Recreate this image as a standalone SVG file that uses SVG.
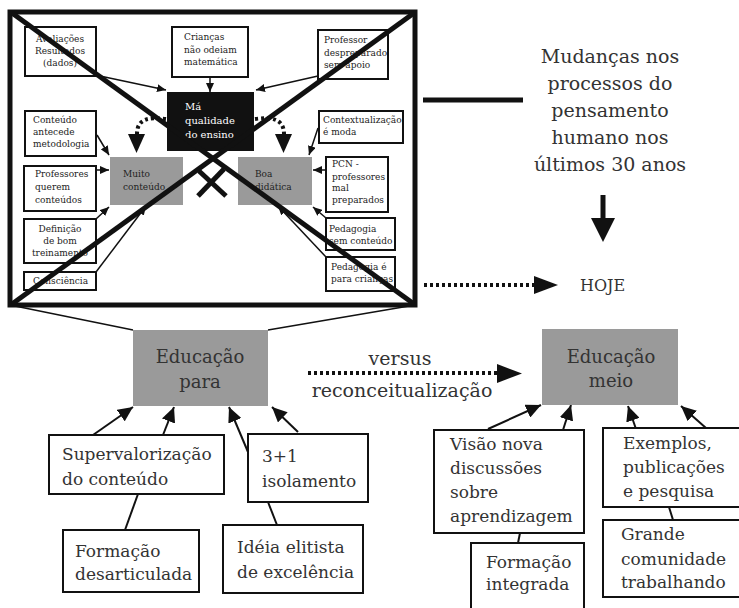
<svg xmlns="http://www.w3.org/2000/svg" width="739" height="608" viewBox="0 0 739 608">
<defs>
<marker id="as" markerUnits="userSpaceOnUse" markerWidth="10" markerHeight="8" refX="9" refY="4" orient="auto"><path d="M0,0 L9,4 L0,8 z" fill="#111"/></marker>
<marker id="am" markerUnits="userSpaceOnUse" markerWidth="16" markerHeight="14" refX="15" refY="7" orient="auto"><path d="M0,0 L15,7 L0,14 z" fill="#111"/></marker>
</defs>
<style>
text{font-family:"DejaVu Serif","Liberation Serif",serif;fill:#222}
.s{font-size:9px}
.w{fill:#fff;font-size:10px}
.b{font-size:17px;fill:#333}
.e{font-size:18px;fill:#333}
.v{font-size:19px;fill:#333}
.m{font-size:19px;fill:#333}
.box{fill:#fff;stroke:#111;stroke-width:2}
.g{fill:#9a9a9a}
.ln{stroke:#111;stroke-width:1.5;fill:none}
.lb{stroke:#111;stroke-width:2;fill:none}
.dot{stroke:#111;stroke-width:4;stroke-dasharray:3 3;fill:none}
.thick{stroke:#111;stroke-width:5;fill:none}
</style>
<rect width="739" height="608" fill="#fff"/>

<g id="connectors">
<line class="ln" x1="100" y1="76" x2="166" y2="90" marker-end="url(#as)"/>
<line class="ln" x1="210" y1="77" x2="210" y2="92" marker-end="url(#as)"/>
<line class="ln" x1="318" y1="76" x2="256" y2="90" marker-end="url(#as)"/>
<line class="ln" x1="97" y1="135" x2="109" y2="155" marker-end="url(#as)"/>
<line class="ln" x1="96" y1="170" x2="109" y2="170" marker-end="url(#as)"/>
<line class="ln" x1="96" y1="219" x2="109" y2="207" marker-end="url(#as)"/>
<line class="ln" x1="96" y1="272" x2="146" y2="206" marker-end="url(#as)"/>
<line class="ln" x1="318" y1="128" x2="309" y2="155" marker-end="url(#as)"/>
<line class="ln" x1="326" y1="170" x2="313" y2="170" marker-end="url(#as)"/>
<line class="ln" x1="326" y1="218" x2="313" y2="207" marker-end="url(#as)"/>
<line class="ln" x1="326" y1="257" x2="278" y2="206" marker-end="url(#as)"/>
<path class="dot" d="M166,119 C150,117 137,118 137,134"/>
<polygon points="128,134 145,134 136.5,153" fill="#111"/>
<path class="dot" d="M255,119 C270,117 284,118 284,134"/>
<polygon points="275,134 292,134 283.5,153" fill="#111"/>
<line class="thick" x1="198" y1="196" x2="224" y2="169"/>
<line class="thick" x1="199" y1="171" x2="226" y2="196"/>
<line class="ln" x1="10" y1="305" x2="133" y2="330"/>
<line class="ln" x1="415" y1="305" x2="268" y2="330"/>
<line class="thick" x1="423" y1="100" x2="523" y2="100"/>
<line class="thick" x1="603" y1="195" x2="603" y2="220"/>
<polygon points="591,218 615,218 603,242" fill="#111"/>
<line class="dot" x1="424" y1="285" x2="536" y2="285"/>
<polygon points="534,276 534,294 558,285" fill="#111"/>
<line class="dot" x1="308" y1="373" x2="499" y2="373"/>
<polygon points="497,364 497,383 522,373.5" fill="#111"/>
<line class="lb" x1="93" y1="435" x2="133" y2="407" marker-end="url(#am)"/>
<line class="lb" x1="163" y1="435" x2="174" y2="407" marker-end="url(#am)"/>
<line class="lb" x1="248" y1="452" x2="229" y2="407" marker-end="url(#am)"/>
<line class="lb" x1="298" y1="432" x2="272" y2="407" marker-end="url(#am)"/>
<line class="lb" x1="138" y1="494" x2="125" y2="530"/>
<line class="lb" x1="268" y1="502" x2="277" y2="525"/>
<line class="lb" x1="488" y1="429" x2="541" y2="405" marker-end="url(#am)"/>
<line class="lb" x1="563" y1="430" x2="571" y2="405" marker-end="url(#am)"/>
<line class="lb" x1="636" y1="429" x2="628" y2="406" marker-end="url(#am)"/>
<line class="lb" x1="706" y1="428" x2="681" y2="406" marker-end="url(#am)"/>
<line class="lb" x1="520" y1="533" x2="518" y2="543"/>
<line class="lb" x1="669" y1="507" x2="673" y2="520"/>
</g>

<g id="n-avaliacoes"><rect class="box" x="25" y="27" width="71" height="49"/>
<text class="s" x="60" text-anchor="middle"><tspan y="42">Avaliações</tspan><tspan x="60" y="54">Resultados</tspan><tspan x="60" y="66">(dados)</tspan></text></g>
<g id="n-criancas"><rect class="box" x="172" y="27" width="76" height="50"/>
<text class="s" x="184"><tspan y="40">Crianças</tspan><tspan x="184" y="53">não odeiam</tspan><tspan x="184" y="65">matemática</tspan></text></g>
<g id="n-professor"><rect class="box" x="318" y="30" width="70" height="49"/>
<text class="s" x="324"><tspan y="43">Professor</tspan><tspan x="324" y="56">despreparado</tspan><tspan x="324" y="68">sem apoio</tspan></text></g>
<g id="n-ma"><rect x="167" y="92" width="87" height="59" fill="#111"/>
<text class="w" x="185"><tspan y="110">Má</tspan><tspan x="185" y="124">qualidade</tspan><tspan x="185" y="138">do ensino</tspan></text></g>
<g id="n-conteudo"><rect class="box" x="25" y="111" width="71" height="45"/>
<text class="s" x="33"><tspan y="123">Conteúdo</tspan><tspan x="33" y="135">antecede</tspan><tspan x="33" y="147">metodologia</tspan></text></g>
<g id="n-contextualizacao"><rect class="box" x="319" y="111" width="84" height="32"/>
<text class="s" x="323"><tspan y="123">Contextualização</tspan><tspan x="323" y="135">é moda</tspan></text></g>
<g id="n-muito"><rect class="g" x="110" y="157" width="73" height="48"/>
<text class="s" x="123"><tspan y="177">Muito</tspan><tspan x="123" y="190">conteúdo</tspan></text></g>
<g id="n-boa"><rect class="g" x="238" y="157" width="74" height="48"/>
<text class="s" x="255"><tspan y="177">Boa</tspan><tspan x="255" y="190">didática</tspan></text></g>
<g id="n-professores"><rect class="box" x="24" y="166" width="72" height="45"/>
<text class="s" x="35"><tspan y="177">Professores</tspan><tspan x="35" y="190">querem</tspan><tspan x="35" y="203">conteúdos</tspan></text></g>
<g id="n-pcn"><rect class="box" x="326" y="157" width="62" height="55"/>
<text class="s" x="332"><tspan y="167">PCN -</tspan><tspan x="332" y="180">professores</tspan><tspan x="332" y="191">mal</tspan><tspan x="332" y="203">preparados</tspan></text></g>
<g id="n-definicao"><rect class="box" x="24" y="219" width="72" height="44"/>
<text class="s" x="60" text-anchor="middle"><tspan y="232">Definição</tspan><tspan x="60" y="244">de bom</tspan><tspan x="60" y="256">treinamento</tspan></text></g>
<g id="n-pedsem"><rect class="box" x="326" y="218" width="69" height="32"/>
<text class="s" x="329"><tspan y="232">Pedagogia</tspan><tspan x="329" y="244">sem conteúdo</tspan></text></g>
<g id="n-consciencia"><rect class="box" x="24" y="272" width="72" height="18"/>
<text class="s" x="33" y="284">Consciência</text></g>
<g id="n-pedpara"><rect class="box" x="326" y="257" width="69" height="34"/>
<text class="s" x="331"><tspan y="270">Pedagogia é</tspan><tspan x="331" y="282">para crianças</tspan></text></g>

<g id="frame">
<rect class="thick" x="10" y="12" width="405" height="293"/>
<line class="thick" x1="12" y1="13" x2="414" y2="304"/>
<line class="thick" x1="414" y1="13" x2="12" y2="304"/>
</g>

<g id="n-mudancas"><text class="m" x="610" text-anchor="middle"><tspan y="63">Mudanças nos</tspan><tspan x="610" y="90">processos do</tspan><tspan x="610" y="117">pensamento</tspan><tspan x="610" y="144">humano nos</tspan><tspan x="610" y="171">últimos 30 anos</tspan></text></g>
<g id="n-hoje"><text x="580" y="291" style="font-size:16px;fill:#333">HOJE</text></g>

<g id="n-edpara"><rect class="g" x="133" y="330" width="135" height="76"/>
<text class="e" x="200" text-anchor="middle"><tspan y="363">Educação</tspan><tspan x="200" y="388">para</tspan></text></g>
<g id="n-versus"><text class="v" x="400" y="365" text-anchor="middle">versus</text>
<text class="v" x="402" y="397" text-anchor="middle">reconceitualização</text></g>
<g id="n-edmeio"><rect class="g" x="542" y="329" width="136" height="76"/>
<text class="e" x="611" text-anchor="middle"><tspan y="363">Educação</tspan><tspan x="611" y="387">meio</tspan></text></g>
<g id="n-super"><rect class="box" x="49" y="435" width="175" height="59"/>
<text class="b" x="62"><tspan y="460">Supervalorização</tspan><tspan x="62" y="485">do conteúdo</tspan></text></g>
<g id="n-31"><rect class="box" x="248" y="434" width="120" height="68"/>
<text class="b" x="262"><tspan y="462">3+1</tspan><tspan x="262" y="487">isolamento</tspan></text></g>
<g id="n-formdes"><rect class="box" x="63" y="530" width="136" height="62"/>
<text class="b" x="75"><tspan y="557">Formação</tspan><tspan x="75" y="580">desarticulada</tspan></text></g>
<g id="n-ideia"><rect class="box" x="223" y="525" width="140" height="68"/>
<text class="b" x="237"><tspan y="553">Idéia elitista</tspan><tspan x="237" y="578">de excelência</tspan></text></g>
<g id="n-visao"><rect class="box" x="434" y="430" width="150" height="103"/>
<text class="b" x="450"><tspan y="450">Visão nova</tspan><tspan x="450" y="474">discussões</tspan><tspan x="450" y="498">sobre</tspan><tspan x="450" y="522">aprendizagem</tspan></text></g>
<g id="n-exemplos"><rect class="box" x="603" y="428" width="140" height="79"/>
<text class="b" x="623"><tspan y="449">Exemplos,</tspan><tspan x="623" y="473">publicações</tspan><tspan x="623" y="497">e pesquisa</tspan></text></g>
<g id="n-grande"><rect class="box" x="603" y="520" width="140" height="77"/>
<text class="b" x="621"><tspan y="540">Grande</tspan><tspan x="621" y="565">comunidade</tspan><tspan x="621" y="588">trabalhando</tspan></text></g>
<g id="n-formint"><rect class="box" x="471" y="543" width="113" height="70"/>
<text class="b" x="486"><tspan y="568">Formação</tspan><tspan x="486" y="590">integrada</tspan></text></g>
</svg>
